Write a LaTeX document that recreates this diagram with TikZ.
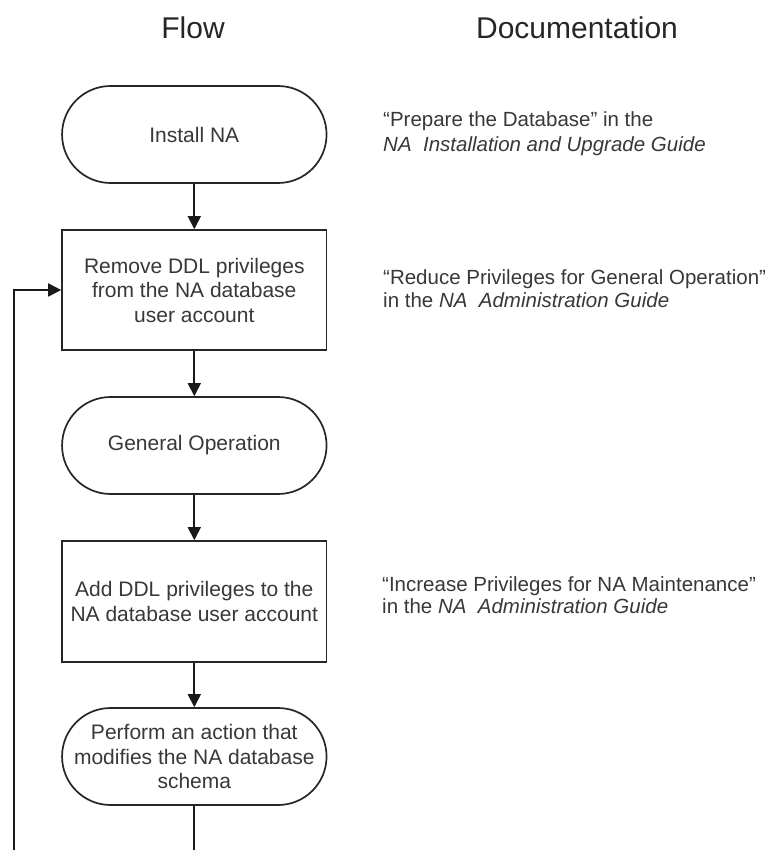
\documentclass[tikz,border=0pt]{standalone}
\usepackage{fontspec}
\setmainfont{Liberation Sans}
\usetikzlibrary{arrows.meta}
\begin{document}
\begin{tikzpicture}[x=1pt,y=-1pt,
  box/.style={draw=black!85, line width=1.7pt, minimum width=264.5pt, inner sep=0pt, align=center,
    font=\fontsize{21}{24.5}\selectfont, text=black!78},
  procbox/.style={box, minimum height=120pt},
  termbox/.style={box, minimum height=97pt, rounded corners=48.5pt},
  conn/.style={draw=black!90, line width=1.7pt, -{Triangle[length=13pt,width=13pt]}},
  plainline/.style={draw=black!90, line width=1.7pt},
  doc/.style={anchor=base west, inner sep=0pt, font=\fontsize{20.5}{23}\selectfont, text=black!78},
  title/.style={anchor=base, inner sep=0pt, font=\fontsize{30}{36}\selectfont, text=black!85}]
\useasboundingbox (0,0) rectangle (781,850);
\fill[white] (0,0) rectangle (781,850);
% titles
\node[title] (tflow) at (193,39) {Flow};
\node[title] (tdoc) at (577,39) {Documentation};
% flow
\node[termbox] (install) at (194.3,134.5) {Install NA};
\node[procbox] (remove) at (194.3,290) {Remove DDL privileges\\from the NA database\\user account};
\node[termbox] (general) at (194.3,445.5) {General Operation};
\node[procbox, minimum height=121pt] (add) at (194.3,601.5) {Add DDL privileges to the\\NA database user account};
\node[termbox] (perform) at (194.3,756.5) {Perform an action that\\modifies the NA database\\schema};
\coordinate (perfbot) at (194.3,850);
\coordinate (loopbot) at (14,850);
% connectors
\draw[conn] (install.south) -- (remove.north);
\draw[conn] (remove.south) -- (general.north);
\draw[conn] (general.south) -- (add.north);
\draw[conn] (add.south) -- (perform.north);
\draw[plainline] (perform.south) -- (perfbot);
\draw[conn] (loopbot) |- (remove.west);
% documentation
\node[doc] (d1a) at (383,127) {“Prepare the Database” in the};
\node[doc] (d1b) at (383,151.5) {\itshape NA\ \ Installation and Upgrade Guide};
\node[doc] (d2a) at (383,284) {“Reduce Privileges for General Operation”};
\node[doc] (d2b) at (383,307) {in the \textit{NA\ \ Administration Guide}};
\node[doc] (d3a) at (382,591) {“Increase Privileges for NA Maintenance”};
\node[doc] (d3b) at (382,613) {in the \textit{NA\ \ Administration Guide}};
\end{tikzpicture}
\end{document}
